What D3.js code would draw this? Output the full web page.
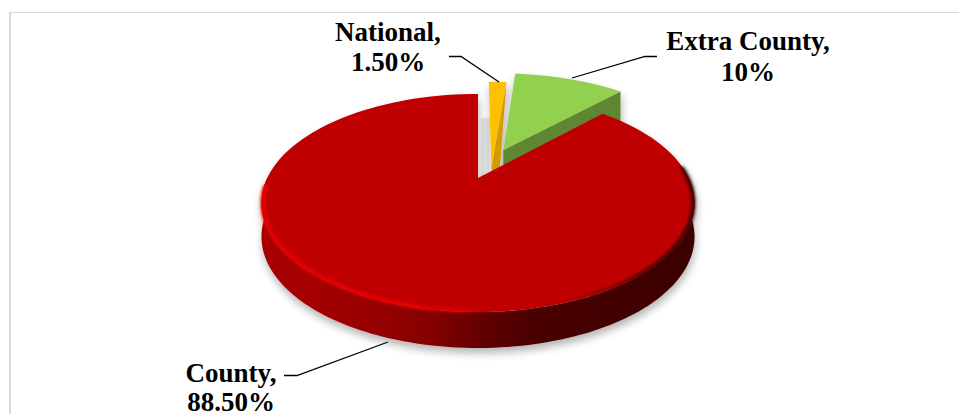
<!DOCTYPE html>
<html><head><meta charset="utf-8">
<script src="https://cdnjs.cloudflare.com/ajax/libs/d3/7.8.5/d3.min.js"></script>
<style>html,body{margin:0;padding:0;background:#fff}svg{display:block}
text{font-family:"Liberation Serif",serif;font-weight:700;font-size:27px;fill:#000;text-anchor:middle}</style>
</head><body><svg id="c" width="959" height="414"></svg>
<script>
const categories=["National","Extra County","County"];
const values=[1.5,10,88.5];
const labelValues=["1.50%","10%","88.50%"];
const topColors=["#ffc000","#92d050","#c00000"];
const wallColors=["#d09c00","#5f8733",null];

const svg=d3.select("#c");
const W=959,H=414;
// Perspective tilt of the pie plane
const K=0.229;
const sx=d3.scaleLinear().domain([-1,1]).range([478-210.8,478+210.8]);
const sy=d3.scaleLinear().domain([-1,1]).range([178-103.3,178+103.3]);
const proj=(w,v,d=0)=>{const p=1-K*v;
  return [(sx(w)-sx(0))/p+sx(0),(sy(v)-sy(0))/p+sy(0)+d*(33+3*v)];};
const pieData=d3.pie().sort(null).value(d=>d)(values);
// small angular stretch of the view near the front of the exploded slices
const split=pieData[2].startAngle, TAU=2*Math.PI;
const warp=a=>a<=split?a*1.05:a+split*.05*(TAU-a)/(TAU-split);
const line=d3.line();
// explosion offset of each slice in plane units, and its radius
const explode=[{w:.065,v:-.105,r:1.08},{w:.128,v:-.289,r:1.03},{w:0,v:0,r:1}];
const pt=(i,a,r,d)=>{const e=explode[i],R=r===undefined?e.r:r,b=warp(a);
  return proj(e.w+R*Math.sin(b),e.v-R*Math.cos(b),d||0);};
const arcPts=(i,a0,a1,d,r)=>d3.range(0,121).map(k=>pt(i,a0+(a1-a0)*k/120,r,d));

const defs=svg.append("defs");
const sh=defs.append("filter").attr("id","shadow").attr("x","-10%").attr("y","-10%").attr("width","120%").attr("height","125%");
sh.append("feGaussianBlur").attr("in","SourceAlpha").attr("stdDeviation",4).attr("result","b");
sh.append("feOffset").attr("in","b").attr("dx",1).attr("dy",5).attr("result","o");
sh.append("feComponentTransfer").attr("in","o").attr("result","s").append("feFuncA").attr("type","linear").attr("slope",.3);
const mg=sh.append("feMerge");mg.append("feMergeNode").attr("in","s");mg.append("feMergeNode").attr("in","SourceGraphic");
defs.append("filter").attr("id","soft").attr("filterUnits","userSpaceOnUse").attr("x",240).attr("y",80).attr("width",480).attr("height",300)
  .append("feGaussianBlur").attr("stdDeviation",1.4);
defs.append("filter").attr("id","gapBlur").attr("filterUnits","userSpaceOnUse").attr("x",470).attr("y",105).attr("width",30).attr("height",80)
  .append("feGaussianBlur").attr("stdDeviation",1);

const wg=defs.append("linearGradient").attr("id","wall").attr("gradientUnits","userSpaceOnUse")
  .attr("x1",260).attr("x2",693).attr("y1",0).attr("y2",0);
[[0,"#a80000"],[.12,"#a50000"],[.25,"#980000"],[.386,"#880000"],[.54,"#5c0000"],[.65,"#480000"],[1,"#3c0000"]]
  .forEach(s=>wg.append("stop").attr("offset",s[0]).attr("stop-color",s[1]));
const rg=defs.append("linearGradient").attr("id","rim").attr("gradientUnits","userSpaceOnUse")
  .attr("x1",260).attr("x2",693).attr("y1",0).attr("y2",0);
[[0,"#e80000",1],[.3,"#ec0000",1],[.45,"#e40000",.8],[.56,"#c00000",0],[.72,"#500000",.15],[.9,"#400000",.9],[1,"#300000",1]]
  .forEach(s=>rg.append("stop").attr("offset",s[0]).attr("stop-color",s[1]).attr("stop-opacity",s[2]));

// frame
svg.append("line").attr("x1",10).attr("x2",W).attr("y1",12.5).attr("y2",12.5).attr("stroke","#d9d9d9").attr("stroke-width",1);
svg.append("line").attr("x1",10).attr("x2",10).attr("y1",12).attr("y2",H).attr("stroke","#d9d9d9").attr("stroke-width",2);

// faint shadow seen in the gap beside the National slice
svg.append("path").attr("d",line([[481,118],[490,118],[490,176],[481,180]])+"Z")
  .attr("fill","#e2e2e2").attr("filter","url(#gapBlur)");

const chart=svg.append("g").attr("filter","url(#shadow)");

// small exploded slices: side wall first, then top face
[1,0].forEach(i=>{
  const s=pieData[i],g=chart.append("g");
  const apex=pt(i,0,0),apexLow=pt(i,0,0,1);
  const far=pt(i,s.endAngle),farLow=pt(i,s.endAngle,undefined,1);
  const wall=i===0?[apex,far,[apexLow[0]+6,apexLow[1]]]:[apex,far,farLow,apexLow];
  g.append("path").attr("d",line(wall)+"Z").attr("fill",wallColors[i]);
  g.append("path").attr("d",line([apex,...arcPts(i,s.startAngle,s.endAngle)])+"Z").attr("fill",topColors[i]);
});

// county slice: outer wall, then top face, then soft bevel along the rim
const county=pieData[2];
const fromA=Math.PI*.5,toA=Math.PI*1.5;
const rimTop=arcPts(2,fromA,toA),rimLow=arcPts(2,fromA,toA,1);
chart.append("path").attr("d",line([...rimTop,...rimLow.reverse()])+"Z").attr("fill","url(#wall)");
chart.append("path").attr("d",line([pt(2,0,0),...arcPts(2,county.startAngle,county.endAngle)])+"Z").attr("fill",topColors[2]);
chart.append("path").attr("d",line(arcPts(2,Math.PI*.46,Math.PI*1.47,0,.995)))
  .attr("fill","none").attr("stroke","url(#rim)").attr("stroke-width",4).attr("stroke-linecap","round").attr("filter","url(#soft)");

// leader lines
const leaders=[
  [[449,56.5],[461,56.5],[499,82]],
  [[657,56.5],[645,56.5],[572,78]],
  [[284,375.5],[297,375.5],[388,342]]];
svg.selectAll("path.leader").data(leaders).enter().append("path").attr("class","leader")
  .attr("d",d=>line(d)).attr("fill","none").attr("stroke","#000").attr("stroke-width",1.3);

// labels
const labelAt=[[388,41,71],[748,50,81],[231,382,411]];
categories.forEach((n,i)=>{
  const t=svg.append("text").attr("x",labelAt[i][0]);
  t.append("tspan").attr("x",labelAt[i][0]).attr("y",labelAt[i][1]).text(n+",");
  t.append("tspan").attr("x",labelAt[i][0]).attr("y",labelAt[i][2]).text(labelValues[i]);
});
</script></body></html>
